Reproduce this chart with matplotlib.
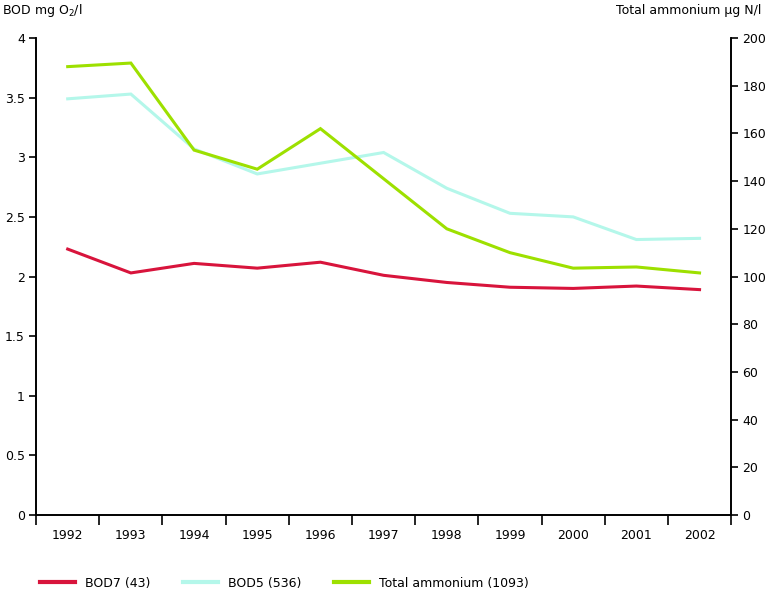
import numpy as np
import matplotlib
matplotlib.use('Agg')
import matplotlib.pyplot as plt
from matplotlib.lines import Line2D

# =============================================================================
#                               Data
# =============================================================================

years = ['1992', '1993', '1994', '1995', '1996', '1997', '1998', '1999',
         '2000', '2001', '2002']
bod7 = [2.23, 2.03, 2.11, 2.07, 2.12, 2.01, 1.95, 1.91, 1.90, 1.92, 1.89]
bod5 = [3.49, 3.53, 3.07, 2.86, 2.95, 3.04, 2.74, 2.53, 2.50, 2.31, 2.32]
ammonium = [188, 189.5, 153, 145, 162, 141, 120, 110, 103.5, 104, 101.5]

c_bod7 = '#d8143c'
c_bod5 = '#b4f7ea'
c_amm = '#9de000'

plt.rcParams['font.family'] = ['DejaVu Sans']
plt.rcParams['font.size'] = 9

# =============================================================================
#                               Plotting
# =============================================================================

fig = plt.figure(figsize=(7.68, 5.94), dpi=100)
ax = fig.add_axes([0.047, 0.133, 0.905, 0.803])
ax2 = ax.twinx()

aX = np.arange(len(years))
ax.plot(aX, bod7, color=c_bod7, lw=2.2, solid_joinstyle='miter')
ax.plot(aX, bod5, color=c_bod5, lw=2.2, solid_joinstyle='miter')
ax2.plot(aX, ammonium, color=c_amm, lw=2.2, solid_joinstyle='miter')

ax.set_xlim(-0.5, len(years) - 0.5)
ax.set_ylim(0, 4)
ax2.set_ylim(0, 200)
ax.set_yticks(np.arange(0, 4.01, 0.5))
ax.set_yticklabels(['0', '0.5', '1', '1.5', '2', '2.5', '3', '3.5', '4'])
ax2.set_yticks(np.arange(0, 201, 20))

# ticks between categories, labels at centres
ax.set_xticks(np.arange(-0.5, len(years), 1))
ax.set_xticklabels([])
ax.set_xticks(aX, minor=True)
ax.set_xticklabels(years, minor=True)
ax.tick_params(axis='x', which='major', direction='out', length=7, width=1.2)
ax.tick_params(axis='x', which='minor', length=0, pad=10)
ax.tick_params(axis='y', direction='out', length=5, width=1.2, pad=3)
ax2.tick_params(axis='y', direction='out', length=5, width=1.2, pad=3)

for a in (ax, ax2):
    a.spines['top'].set_visible(False)
    for s in ('left', 'right', 'bottom'):
        a.spines[s].set_linewidth(1.2)

fig.text(0.002, 0.983, 'BOD mg O$_2$/l', ha='left', va='center', fontsize=9)
fig.text(0.992, 0.983, 'Total ammonium µg N/l', ha='right', va='center',
         fontsize=9)

handles = [Line2D([], [], color=c_bod7, lw=3),
           Line2D([], [], color=c_bod5, lw=3),
           Line2D([], [], color=c_amm, lw=3)]
labels = ['BOD7 (43)', 'BOD5 (536)', 'Total ammonium (1093)']
fig.legend(handles, labels, loc='center left', bbox_to_anchor=(0.052, 0.018),
           ncol=3, frameon=False, handlelength=2.8, columnspacing=2.6,
           handletextpad=0.8, fontsize=9, borderaxespad=0, borderpad=0)

fig.savefig('out.png', dpi=100)
